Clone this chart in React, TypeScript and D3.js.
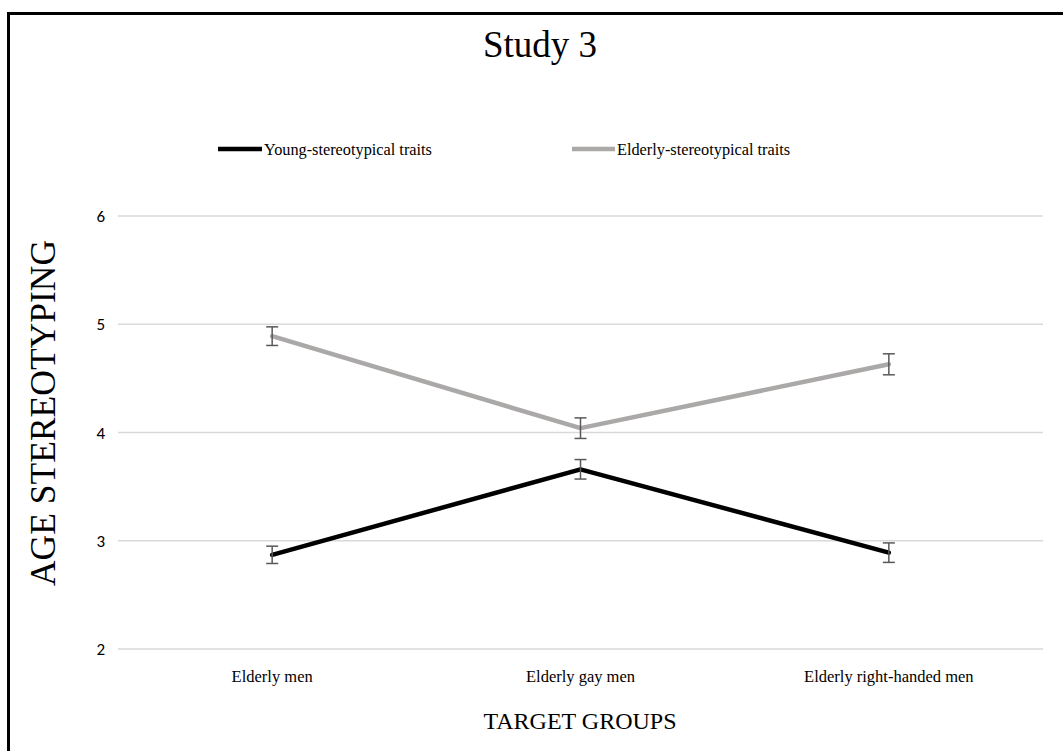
import React from "react";
import * as d3 from "d3";

const categories = ["Elderly men", "Elderly gay men", "Elderly right-handed men"];
const youngValues = [2.87, 3.66, 2.89];
const youngErrors = [0.08, 0.09, 0.09];
const elderlyValues = [4.89, 4.04, 4.63];
const elderlyErrors = [0.086, 0.095, 0.097];
const yTicks = [2, 3, 4, 5, 6];
const seriesNames = ["Young-stereotypical traits", "Elderly-stereotypical traits"];

const W = 1063;
const H = 751;
const plotLeft = 118;
const plotRight = 1043;
const plotTop = 216;
const plotBottom = 649;

export default function App() {
  const x = d3.scaleBand<string>().domain(categories).range([plotLeft, plotRight]);
  const y = d3.scaleLinear().domain([2, 6]).range([plotBottom, plotTop]);
  const cx = (c: string) => (x(c) as number) + x.bandwidth() / 2;
  const line = d3
    .line<number>()
    .x((_, i) => cx(categories[i]))
    .y((d) => y(d));

  const series = [
    { name: seriesNames[0], values: youngValues, errors: youngErrors, color: "#000000" },
    { name: seriesNames[1], values: elderlyValues, errors: elderlyErrors, color: "#ABA8A8" },
  ];
  const serif = "'Liberation Serif', 'Times New Roman', serif";
  const sans = "Carlito, 'Open Sans', 'Liberation Sans', sans-serif";

  return (
    <svg
      width={W}
      height={H}
      style={{ position: "absolute", left: 0, top: 0, background: "#fff" }}
    >
      <rect x={0} y={0} width={W} height={H} fill="#fff" />
      <rect x={8.5} y={13.5} width={W + 20} height={H + 20} fill="none" stroke="#000" strokeWidth={3} />
      <text x={540} y={57} textAnchor="middle" fontFamily={serif} fontSize={37} fill="#000">
        Study 3
      </text>
      {/* legend */}
      <g>
        <line x1={218} x2={262} y1={149} y2={149} stroke="#000" strokeWidth={4.5} />
        <text x={264} y={155} fontFamily={serif} fontSize={16.3} fill="#000">
          {series[0].name}
        </text>
        <line x1={572} x2={615} y1={149} y2={149} stroke={series[1].color} strokeWidth={4.5} />
        <text x={617} y={155} fontFamily={serif} fontSize={16.3} fill="#000">
          {series[1].name}
        </text>
      </g>
      {/* gridlines */}
      {yTicks.map((t) => (
        <g key={t}>
          <line x1={plotLeft} x2={plotRight} y1={y(t)} y2={y(t)} stroke="#D9D9D9" strokeWidth={1.3} />
          <text x={105} y={y(t) + 6} textAnchor="end" fontFamily={sans} fontSize={17} fill="#000">
            {t}
          </text>
        </g>
      ))}
      {/* category labels */}
      {categories.map((c) => (
        <text key={c} x={cx(c)} y={682} textAnchor="middle" fontFamily={serif} fontSize={16.5} fill="#000">
          {c}
        </text>
      ))}
      <text x={580} y={729} textAnchor="middle" fontFamily={serif} fontSize={24} fill="#000">
        TARGET GROUPS
      </text>
      <text
        transform={`translate(55, 413) rotate(-90)`}
        textAnchor="middle"
        fontFamily={serif}
        fontSize={35.5}
        fill="#000"
      >
        AGE STEREOTYPING
      </text>
      {/* lines */}
      {series.map((s) => (
        <path
          key={s.name}
          d={line(s.values) || ""}
          fill="none"
          stroke={s.color}
          strokeWidth={4.5}
          strokeLinecap="round"
          strokeLinejoin="round"
        />
      ))}
      {/* error bars */}
      {series.map((s) =>
        s.values.map((v, i) => {
          const px = cx(categories[i]);
          const top = y(v + s.errors[i]);
          const bot = y(v - s.errors[i]);
          return (
            <g key={s.name + i} stroke="#595959" strokeWidth={1.5}>
              <line x1={px} x2={px} y1={top} y2={bot} />
              <line x1={px - 6} x2={px + 6} y1={top} y2={top} />
              <line x1={px - 6} x2={px + 6} y1={bot} y2={bot} />
            </g>
          );
        })
      )}
    </svg>
  );
}
